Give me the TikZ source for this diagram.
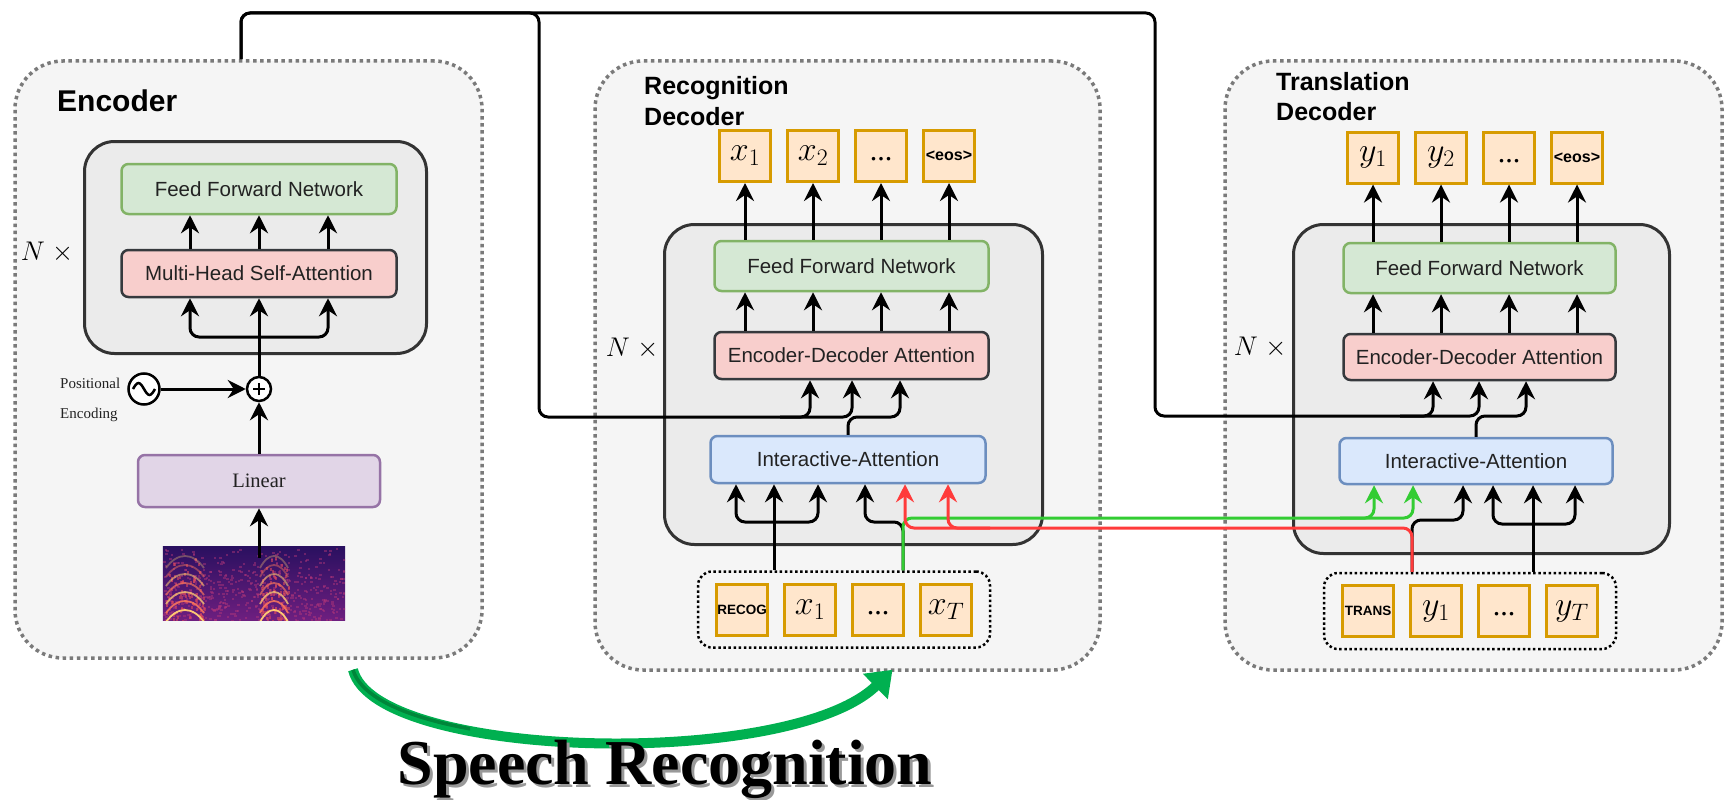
\documentclass[tikz,border=0pt]{standalone}
\usepackage{fix-cm}
\usepackage{fontspec}
\setmainfont{Liberation Serif}
\setsansfont{Liberation Sans}
\usepackage{tikz}
\usetikzlibrary{arrows.meta,positioning,fit}
\tikzset{>={Stealth[length=18pt,width=18pt,inset=6pt]}}

\definecolor{panelfill}{HTML}{F5F5F5}
\definecolor{paneldots}{HTML}{7A7A7A}
\definecolor{stackfill}{HTML}{EBEBEB}
\definecolor{stackline}{HTML}{333333}
\definecolor{ffnfill}{HTML}{D5E8D4}
\definecolor{ffnline}{HTML}{82B366}
\definecolor{attfill}{HTML}{F8CECC}
\definecolor{attline}{HTML}{36393D}
\definecolor{iafill}{HTML}{DAE8FC}
\definecolor{ialine}{HTML}{6C8EBF}
\definecolor{linfill}{HTML}{E1D5E7}
\definecolor{linline}{HTML}{9673A6}
\definecolor{tokfill}{HTML}{FFE6CC}
\definecolor{tokline}{HTML}{D79B00}
\definecolor{redwire}{HTML}{FF3B3B}
\definecolor{greenwire}{HTML}{33CC33}
\definecolor{bigarrow}{HTML}{00B050}
\definecolor{bigarrowdark}{HTML}{00863A}
\definecolor{labeltext}{HTML}{222222}
\definecolor{specdark}{HTML}{2A1060}
\definecolor{specmid}{HTML}{6E1F80}
\definecolor{specpink}{HTML}{B73779}
\definecolor{specred}{HTML}{D9485F}
\definecolor{specorange}{HTML}{F8765C}
\definecolor{specyellow}{HTML}{FDC873}

\tikzstyle{panel}=[draw=paneldots, fill=panelfill, line width=3.5pt, dash pattern=on 3.5pt off 3.6pt, rounded corners=48pt, inner sep=0pt]
\tikzstyle{stack}=[draw=stackline, fill=stackfill, line width=3pt, rounded corners=30pt, inner sep=0pt]
\tikzstyle{block}=[line width=2.5pt, rounded corners=7pt, inner sep=0pt, text=labeltext, font=\sffamily\fontsize{20.5}{24}\selectfont]
\tikzstyle{ffn}=[block, draw=ffnline, fill=ffnfill]
\tikzstyle{att}=[block, draw=attline, fill=attfill]
\tikzstyle{inter}=[block, draw=ialine, fill=iafill]
\tikzstyle{lin}=[block, draw=linline, fill=linfill, font=\rmfamily\fontsize{20.5}{24}\selectfont]
\tikzstyle{tok}=[draw=tokline, fill=tokfill, line width=3pt, minimum size=51pt, inner sep=0pt, font=\fontsize{34}{40}\selectfont]
\tikzstyle{tokgroup}=[draw=black, line width=2.5pt, dash pattern=on 2.5pt off 2.6pt, rounded corners=14pt, inner xsep=17pt, inner ysep=11pt]
\tikzstyle{wire}=[line width=3pt, rounded corners=9pt]
\tikzstyle{paneltitle}=[anchor=base west, align=left, inner sep=0pt, font=\sffamily\bfseries\fontsize{25}{31}\selectfont]
\tikzstyle{nx}=[inner sep=0pt, font=\fontsize{27}{30}\selectfont]
\tikzstyle{circ}=[circle, draw=black, line width=2.5pt, fill=white, inner sep=0pt]
\tikzstyle{small}=[anchor=west, inner sep=0pt, text=labeltext, font=\rmfamily\fontsize{15}{18}\selectfont]
\newcommand{\tok}{\node[tok]}
\newcommand{\tagtxt}[1]{{\sffamily\bfseries\fontsize{13.5}{16}\selectfont #1}}
\newcommand{\eostxt}{{\sffamily\bfseries\fontsize{16}{18}\selectfont <eos>}}
\newcommand{\tokdots}{{\vphantom{$x_1$}\rmfamily\fontsize{30}{30}\selectfont ...}}

\begin{document}
\begin{tikzpicture}[x=1pt, y=-1pt]
\useasboundingbox (0,0) rectangle (1725,800);

% encoder
\node[panel, minimum width=467pt, minimum height=597pt] (enc) at (248.5,359.5) {};
\node[paneltitle, font=\sffamily\bfseries\fontsize{30}{36}\selectfont] at (57,111) {Encoder};
\node[stack, minimum width=342pt, minimum height=212pt] (encstack) at (255.5,247.5) {};
\node[ffn, minimum width=275pt, minimum height=50pt] (encffn) at (259,189) {Feed Forward Network};
\node[att, minimum width=275pt, minimum height=47pt] (encmhsa) at (259,273.5) {Multi-Head Self-Attention};
\node[nx] at (47,252) {$N\;\times$};
\node[circ, minimum size=24pt] (plus) at (259,389) {};
\draw[line width=2pt] ([yshift=-6pt]plus.center) -- ([yshift=6pt]plus.center)
  ([xshift=-6pt]plus.center) -- ([xshift=6pt]plus.center);
\node[circ, minimum size=31pt] (sine) at (144,389) {};
\draw[line width=2.5pt] ([xshift=-11pt]sine.center) sin ++(5.5pt,6pt) cos ++(5.5pt,-6pt)
  sin ++(5.5pt,-6pt) cos ++(5.5pt,6pt);
\node[small] at (60,383) {Positional};
\node[small] at (60,415) {Encoding};
\node[lin, minimum width=242pt, minimum height=52pt] (linear) at (259,481) {Linear};
\node[inner sep=0pt, minimum width=182pt, minimum height=73pt] (spec) at (254,583.5) {};

% spectrogram
\begin{scope}
\clip (spec.north west) rectangle (spec.south east);
\shade[top color=specdark, bottom color=specmid] (spec.north west) rectangle (spec.south east);
\pgfmathsetseed{11}
\foreach \i in {1,...,520}{
  \pgfmathsetmacro{\rx}{163+182*rnd}
  \pgfmathsetmacro{\ry}{547+73*rnd^0.6}
  \fill[specpink, opacity=.45] (\rx,\ry) rectangle ++(2.5pt,-2pt);
}
\foreach \bx/\bw in {166/38,260/28}{
  \foreach \i in {1,...,90}{
    \pgfmathsetmacro{\rx}{\bx+\bw*rnd}
    \pgfmathsetmacro{\ry}{547+73*rnd^0.5}
    \fill[specred, opacity=.6] (\rx,\ry) rectangle ++(2pt,-3pt);
  }
  \foreach \k in {0,2,4,6}
    \draw[specyellow, line width=1.8pt, opacity={1-0.11*\k}] (\bx,622-9*\k) .. controls (\bx+0.3*\bw,606-9*\k) and (\bx+0.7*\bw,606-9*\k) .. (\bx+\bw,622-9*\k);
  \foreach \k in {1,3,5}
    \draw[specorange, line width=1.8pt, opacity={1-0.11*\k}] (\bx,622-9*\k) .. controls (\bx+0.3*\bw,606-9*\k) and (\bx+0.7*\bw,606-9*\k) .. (\bx+\bw,622-9*\k);
}
\end{scope}

% recognition decoder
\node[panel, minimum width=505pt, minimum height=609pt] (rec) at (847.5,365.5) {};
\node[paneltitle] at (644,125) {Recognition\\Decoder};
\node[stack, minimum width=378pt, minimum height=320pt] (recstack) at (853.5,384.5) {};
\node[ffn, minimum width=274pt, minimum height=50pt] (recffn) at (851.5,266) {Feed Forward Network};
\node[att, minimum width=274pt, minimum height=47pt] (receda) at (851.5,355.5) {Encoder-Decoder Attention};
\node[inter, minimum width=275pt, minimum height=47pt] (recia) at (848,459.5) {Interactive-Attention};
\node[nx] at (632,348) {$N\;\times$};
\tok (rx1) at (745,156) {$x_1$};
\tok (rx2) [right=14pt of rx1] {$x_2$};
\tok (rxd) [right=14pt of rx2] {\tokdots};
\tok (reos) [right=14pt of rxd] {\eostxt};
\tok (rrec) at (742,609.5) {\tagtxt{RECOG}};
\tok (rin1) [right=14pt of rrec] {$x_1$};
\tok (rind) [right=14pt of rin1] {\tokdots};
\tok (rinT) [right=14pt of rind] {$x_T$};
\node[tokgroup, fit=(rrec)(rinT)] (rgrp) {};

% translation decoder
\node[panel, minimum width=497pt, minimum height=609pt] (trans) at (1473.5,365.5) {};
\node[paneltitle] at (1276,121) {Translation\\Decoder};
\node[stack, minimum width=376pt, minimum height=329pt] (transstack) at (1481.5,389) {};
\node[ffn, minimum width=272pt, minimum height=50pt] (transffn) at (1479.5,268) {Feed Forward Network};
\node[att, minimum width=272pt, minimum height=46pt] (transeda) at (1479.5,357) {Encoder-Decoder Attention};
\node[inter, minimum width=273pt, minimum height=46pt] (transia) at (1476,461) {Interactive-Attention};
\node[nx] at (1260,347) {$N\;\times$};
\tok (ty1) at (1373,157.5) {$y_1$};
\tok (ty2) [right=14pt of ty1] {$y_2$};
\tok (tyd) [right=14pt of ty2] {\tokdots};
\tok (teos) [right=14pt of tyd] {\eostxt};
\tok (ttr) at (1368,611) {\tagtxt{TRANS}};
\tok (tin1) [right=14pt of ttr] {$y_1$};
\tok (tind) [right=14pt of tin1] {\tokdots};
\tok (tinT) [right=14pt of tind] {$y_T$};
\node[tokgroup, fit=(ttr)(tinT)] (tgrp) {};

% taps
\coordinate (enctap) at (241,0 |- enc.north);
\coordinate (rtap1) at (774,0 |- rgrp.north);
\coordinate (rtap2) at (903,0 |- rgrp.north);
\coordinate (ttap1) at (1412,0 |- tgrp.north);
\coordinate (ttap2) at (1533,0 |- tgrp.north);
\coordinate (specout) at ([yshift=-11pt]spec.north -| linear.south);

% encoder wiring
\draw[->,wire] (specout) -- (linear.south);
\draw[->,wire] (linear) edge (plus) (sine) edge (plus);
\draw[->,wire] (plus.north) -- (encmhsa.south);
\draw[->,wire] (plus.north |- 0,337) -| (190,0 |- encmhsa.south);
\draw[->,wire] (plus.north |- 0,337) -| (328,0 |- encmhsa.south);
\foreach \x in {190,259,328}
  \draw[->,wire] (\x,0 |- encmhsa.north) -- (\x,0 |- encffn.south);

% encoder output to both decoders
\draw[->,wire] (enctap) |- (539,13) |- (852,417) -- (852,0 |- receda.south);
\draw[->,wire] (780,417) -| (810,0 |- receda.south);
\draw[->,wire] (enctap) |- (1155,13) |- (1479,416) -- (1479,0 |- transeda.south);
\draw[->,wire] (1400,416) -| (1433,0 |- transeda.south);
\draw[->,wire] (recia.north) |- (900,417) -- (900,0 |- receda.south);
\draw[->,wire] (transia.north) |- (1526,416) -- (1526,0 |- transeda.south);

% decoder stacks to outputs
\foreach \t in {rx1,rx2,rxd,reos}{
  \draw[->,wire] (\t |- recffn.north) -- (\t.south);
  \draw[->,wire] (\t |- receda.north) -- (\t |- recffn.south);
}
\foreach \t in {ty1,ty2,tyd,teos}{
  \draw[->,wire] (\t |- transffn.north) -- (\t.south);
  \draw[->,wire] (\t |- transeda.north) -- (\t |- transffn.south);
}

% decoder inputs
\draw[->,wire] (rtap1) -- (rtap1 |- recia.south);
\draw[->,wire] (rtap1 |- 0,522) -| (736,0 |- recia.south);
\draw[->,wire] (rtap1 |- 0,522) -| (818,0 |- recia.south);
\draw[->,wire] (rtap2) |- (865,522) -- (865,0 |- recia.south);
\draw[->,wire] (ttap2) -- (ttap2 |- transia.south);
\draw[->,wire] (ttap2 |- 0,524) -| (1493,0 |- transia.south);
\draw[->,wire] (ttap2 |- 0,524) -| (1575,0 |- transia.south);
\draw[->,wire] (ttap1) |- (1463,520) -- (1463,0 |- transia.south);

% interaction between the decoders
\draw[->,wire,greenwire] (rtap2) |- (1413,518) -- (1413,0 |- transia.south);
\draw[->,wire,greenwire] (1340,518) -| (1374,0 |- transia.south);
\draw[->,wire,redwire] (ttap1) |- (905,528) -- (905,0 |- recia.south);
\draw[->,wire,redwire] (990,528) -| (948,0 |- recia.south);

% speech recognition arrow
\coordinate (srfrom) at ([xshift=104.5pt,yshift=-10pt]enc.south);
\coordinate (srto) at ([xshift=45pt,yshift=2pt]rec.south);
\draw[bigarrow, line width=10pt, -{Triangle[length=24pt,width=34pt]}]
  (srfrom) .. controls (375,760) and (790,770) .. (srto);
\begin{scope}
\clip (340,655) rectangle (470,760);
\draw[bigarrowdark, line width=3.5pt, shift={(3pt,2pt)}] (srfrom) .. controls (375,760) and (790,770) .. (srto);
\end{scope}
\node[anchor=base, text=black!40, font=\rmfamily\bfseries\fontsize{64}{70}\selectfont] at (668,787) {Speech Recognition};
\node[anchor=base, font=\rmfamily\bfseries\fontsize{64}{70}\selectfont] (srlabel) at (665,784) {Speech Recognition};
\end{tikzpicture}
\end{document}
